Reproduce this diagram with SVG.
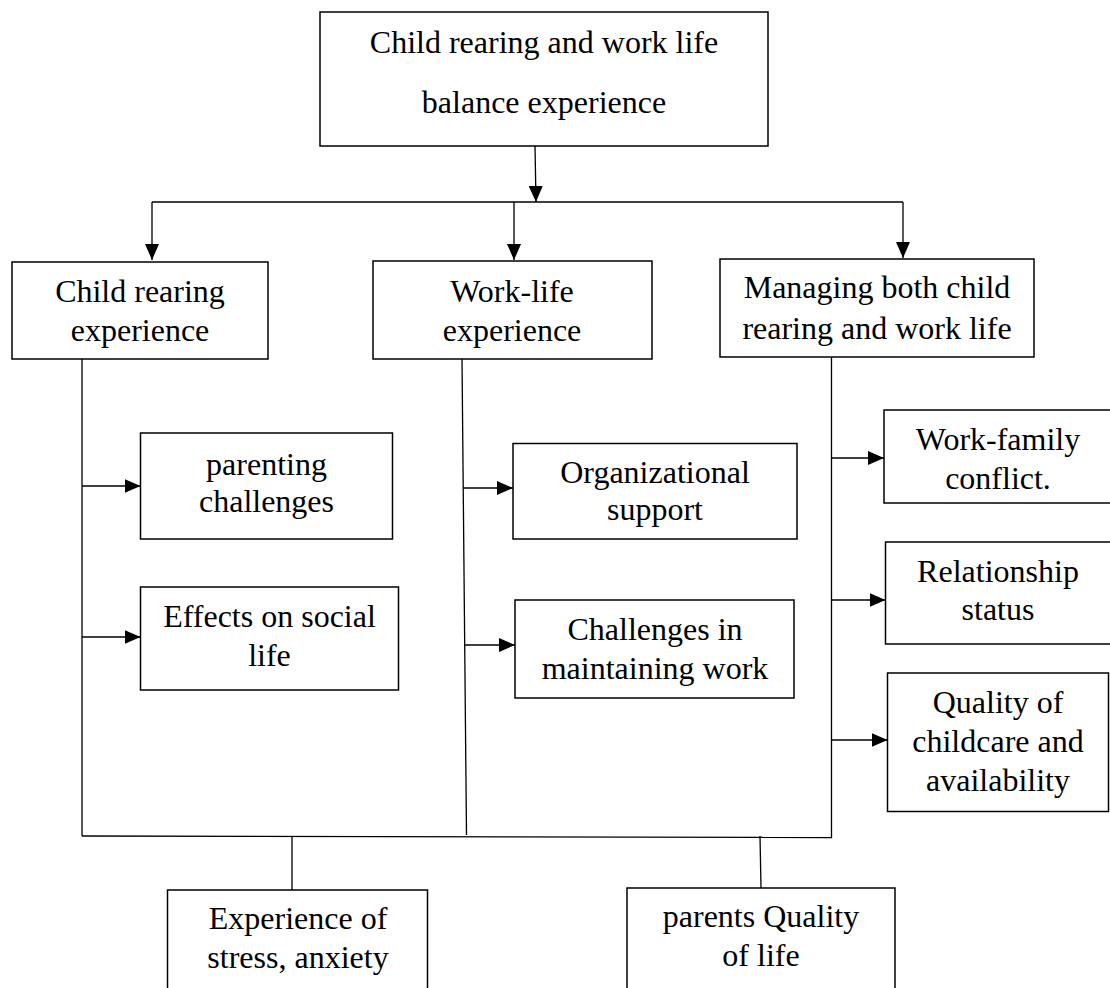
<svg xmlns="http://www.w3.org/2000/svg" width="1110" height="988" viewBox="0 0 1110 988">
<style>
.box{fill:#fff;stroke:#000;stroke-width:1.5}
.t{font-family:"Liberation Serif","Times New Roman",serif;font-size:32px;fill:#000;text-anchor:middle}
.c{fill:none;stroke:#000;stroke-width:1.3}
</style>
<defs>
<marker id="ah" markerUnits="userSpaceOnUse" markerWidth="16" markerHeight="14" refX="16" refY="7" orient="auto">
<path d="M0,0 L16,7 L0,14 z" fill="#000"/>
</marker>
</defs>
<rect width="1110" height="988" fill="#fff"/>
<g id="connectors">
<line class="c" x1="535" y1="146" x2="536" y2="202" marker-end="url(#ah)"/>
<line class="c" x1="152" y1="202" x2="903" y2="202"/>
<line class="c" x1="152" y1="202" x2="152" y2="260" marker-end="url(#ah)"/>
<line class="c" x1="514" y1="202" x2="514" y2="260" marker-end="url(#ah)"/>
<line class="c" x1="903" y1="202" x2="903" y2="258" marker-end="url(#ah)"/>
<line class="c" x1="82" y1="359" x2="82" y2="836"/>
<line class="c" x1="462" y1="359" x2="466.5" y2="835"/>
<line class="c" x1="831.5" y1="357" x2="831.5" y2="838"/>
<line class="c" x1="82" y1="836" x2="832" y2="837.5"/>
<line class="c" x1="82" y1="486" x2="140.5" y2="486" marker-end="url(#ah)"/>
<line class="c" x1="82" y1="637" x2="140.5" y2="637" marker-end="url(#ah)"/>
<line class="c" x1="463.2" y1="488" x2="513" y2="488" marker-end="url(#ah)"/>
<line class="c" x1="464" y1="645" x2="515" y2="645" marker-end="url(#ah)"/>
<line class="c" x1="831.5" y1="458" x2="884" y2="458" marker-end="url(#ah)"/>
<line class="c" x1="831.5" y1="600" x2="885.5" y2="600" marker-end="url(#ah)"/>
<line class="c" x1="831.5" y1="740" x2="887.5" y2="740" marker-end="url(#ah)"/>
<line class="c" x1="292" y1="837" x2="292" y2="890"/>
<line class="c" x1="760" y1="836" x2="761" y2="888"/>
</g>
<g id="top">
<rect class="box" x="320" y="12" width="448" height="134"/>
<text class="t" x="544" y="53">Child rearing and work life</text>
<text class="t" x="544" y="113">balance experience</text>
</g>
<g id="child-rearing">
<rect class="box" x="12" y="262" width="256" height="97"/>
<text class="t" x="140" y="302">Child rearing</text>
<text class="t" x="140" y="341">experience</text>
</g>
<g id="work-life">
<rect class="box" x="373" y="261" width="279" height="98"/>
<text class="t" x="512" y="302">Work-life</text>
<text class="t" x="512" y="341">experience</text>
</g>
<g id="managing">
<rect class="box" x="720" y="259" width="314" height="98"/>
<text class="t" x="877" y="298">Managing both child</text>
<text class="t" x="877" y="339">rearing and work life</text>
</g>
<g id="parenting">
<rect class="box" x="140.5" y="433" width="252" height="106"/>
<text class="t" x="266.5" y="475">parenting</text>
<text class="t" x="266.5" y="512">challenges</text>
</g>
<g id="social">
<rect class="box" x="140.5" y="587" width="258" height="103"/>
<text class="t" x="269.5" y="627">Effects on social</text>
<text class="t" x="269.5" y="666">life</text>
</g>
<g id="organizational">
<rect class="box" x="513" y="443.5" width="284" height="95.5"/>
<text class="t" x="655" y="483">Organizational</text>
<text class="t" x="655" y="520">support</text>
</g>
<g id="maintaining">
<rect class="box" x="515" y="600" width="279" height="98"/>
<text class="t" x="655" y="640">Challenges in</text>
<text class="t" x="655" y="679">maintaining work</text>
</g>
<g id="work-family">
<rect class="box" x="884" y="410" width="230" height="93"/>
<text class="t" x="998" y="450">Work-family</text>
<text class="t" x="998" y="489">conflict.</text>
</g>
<g id="relationship">
<rect class="box" x="885.5" y="542" width="230" height="102"/>
<text class="t" x="998" y="582">Relationship</text>
<text class="t" x="998" y="620">status</text>
</g>
<g id="childcare">
<rect class="box" x="887.5" y="673" width="221" height="138.5"/>
<text class="t" x="998" y="713">Quality of</text>
<text class="t" x="998" y="752">childcare and</text>
<text class="t" x="998" y="791">availability</text>
</g>
<g id="stress">
<rect class="box" x="167.5" y="890" width="260" height="120"/>
<text class="t" x="298" y="929">Experience of</text>
<text class="t" x="298" y="968">stress, anxiety</text>
</g>
<g id="quality-of-life">
<rect class="box" x="627" y="888" width="268" height="120"/>
<text class="t" x="761" y="927">parents Quality</text>
<text class="t" x="761" y="966">of life</text>
</g>
</svg>
